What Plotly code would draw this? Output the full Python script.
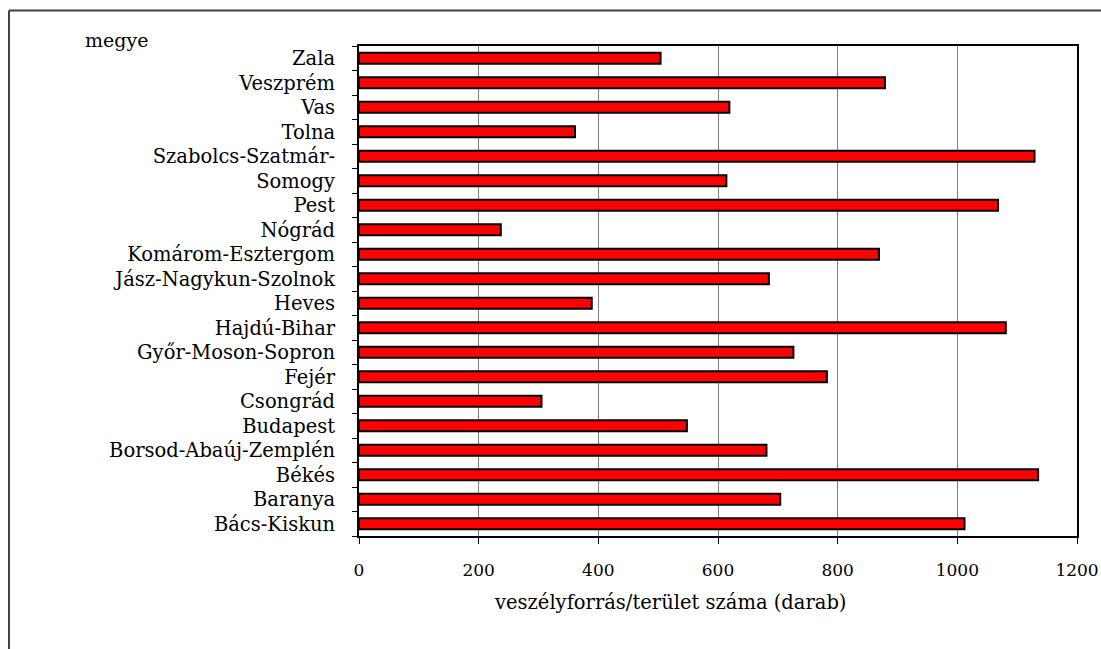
import plotly.graph_objects as go

categories = ["Bács-Kiskun", "Baranya", "Békés", "Borsod-Abaúj-Zemplén", "Budapest",
              "Csongrád", "Fejér", "Győr-Moson-Sopron", "Hajdú-Bihar", "Heves",
              "Jász-Nagykun-Szolnok", "Komárom-Esztergom", "Nógrád", "Pest", "Somogy",
              "Szabolcs-Szatmár-", "Tolna", "Vas", "Veszprém", "Zala"]
values = [1012, 704, 1135, 681, 548,
          305, 782, 726, 1081, 389,
          685, 869, 237, 1068, 614,
          1129, 361, 619, 879, 504]
x_ticks = [0, 200, 400, 600, 800, 1000, 1200]

FONT = "DejaVu Serif"
W, H = 1101, 649
L, R, T, B = 359, 1077, 46, 536

def px(xp):
    return (xp - L) / (R - L)

def py(yp):
    return (B - yp) / (B - T)

fig = go.Figure(go.Bar(
    x=values, y=categories, orientation="h",
    marker=dict(color="#ff0000", line=dict(color="#000000", width=2)),
))

fig.update_layout(
    width=W, height=H,
    margin=dict(l=L, r=W - R, t=T, b=H - B),
    paper_bgcolor="white", plot_bgcolor="white",
    bargap=0.55, showlegend=False,
    font=dict(family=FONT, size=18, color="black"),
    xaxis=dict(range=[0, 1200], tickvals=x_ticks, showgrid=True, gridcolor="#808080",
               gridwidth=1, zeroline=False, showline=True, linecolor="black", linewidth=2,
               mirror=True, ticks="outside", ticklen=6, tickcolor="black", automargin=False,
               ticklabelstandoff=12, tickfont=dict(family=FONT, size=17)),
    yaxis=dict(type="category", tickson="boundaries", showgrid=False, zeroline=False,
               showline=True, linecolor="black", linewidth=2, mirror=True, automargin=False,
               ticks="outside", ticklen=5, tickcolor="black",
               ticklabelstandoff=18, tickfont=dict(family=FONT, size=19.5)),
    shapes=[
        dict(type="line", xref="paper", yref="paper", x0=px(9), x1=px(1110),
             y0=py(10.5), y1=py(10.5), line=dict(color="#404040", width=2)),
        dict(type="line", xref="paper", yref="paper", x0=px(9), x1=px(9),
             y0=py(10.5), y1=py(660), line=dict(color="#404040", width=2)),
    ],
    annotations=[
        dict(text="megye", xref="paper", yref="paper", x=px(83), y=py(40),
             xanchor="left", yanchor="middle", showarrow=False,
             font=dict(family=FONT, size=19)),
        dict(text="veszélyforrás/terület száma (darab)", xref="paper", yref="paper",
             x=px(670), y=py(602), xanchor="center", yanchor="middle", showarrow=False,
             font=dict(family=FONT, size=19.5)),
    ],
)

fig.write_html("out.html", config={"displayModeBar": False},
               post_script="document.body.style.margin='0';document.body.style.overflow='hidden';")
